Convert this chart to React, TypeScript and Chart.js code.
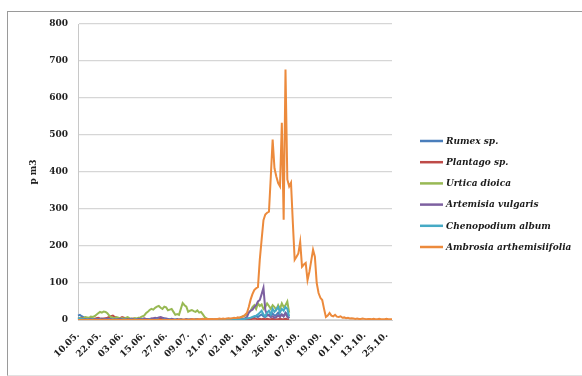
import React, { useEffect, useRef } from 'react';
import { Chart, registerables } from 'chart.js';

Chart.register(...registerables);

// Tick labels shown on the x axis (every 12th day)
const TICK_LABELS = ['10.05.', '22.05.', '03.06.', '15.06.', '27.06.', '09.07.', '21.07.', '02.08.', '14.08.', '26.08.', '07.09.', '19.09.', '01.10.', '13.10.', '25.10.'];
const Y_TICKS = [0, 100, 200, 300, 400, 500, 600, 700, 800];

const SERIES_NAMES = ['Rumex sp.', 'Plantago sp.', 'Urtica dioica', 'Artemisia vulgaris', 'Chenopodium album', 'Ambrosia arthemisiifolia'];
const COLORS = ['#4A7EBB', '#BE4B48', '#98B954', '#7D60A0', '#46AAC5', '#EC8A3C'];

const RUMEX = [
  12, 14, 10, 8, 5, 4, 3, 4, 3, 2,
  3, 2, 3, 4, 3, 2, 2, 3, 2, 1,
  2, 1, 2, 1, 1, 2, 1, 1, 2, 1,
  1, 0, 1, 1, 0, 1, 0, 1, 1, 0,
  1, 0, 1, 0, 1, 1, 0, 1, 0, 1,
  0, 1, 0, 0, 1, 0, 1, 0, 0, 1,
  0, 0, 1, 0, 0, 1, 0, 0, 0, 1,
  0, 0, 0, 1, 0, 0, 0, 1, 0, 0,
  1, 0, 0, 1, 0, 1, 1, 1, 2, 2,
  2, 3, 3, 4, 5, 6, 8, 10, 8, 12,
  15, 10, 8, 12, 15, 10, 18, 12, 14, 20,
  12, 15, 10, 20, 15, 5,
];

const PLANTAGO = [
  4, 5, 6, 4, 3, 5, 4, 3, 4, 3,
  5, 6, 4, 3, 4, 5, 6, 8, 10, 12,
  8, 6, 4, 5, 8, 6, 4, 3, 2, 3,
  4, 3, 2, 3, 2, 3, 4, 3, 2, 2,
  3, 2, 3, 2, 2, 3, 2, 2, 1, 2,
  1, 2, 1, 1, 2, 1, 2, 1, 1, 2,
  1, 1, 2, 1, 1, 2, 1, 1, 2, 1,
  1, 2, 1, 1, 1, 2, 1, 1, 1, 2,
  1, 1, 2, 1, 1, 2, 1, 2, 1, 2,
  2, 2, 3, 3, 2, 3, 4, 3, 2, 3,
  2, 3, 2, 3, 2, 2, 3, 2, 2, 2,
  3, 2, 2, 3, 2, 2,
];

const URTICA = [
  3, 5, 4, 5, 8, 7, 6, 9, 8, 10,
  14, 18, 22, 20, 23, 22, 18, 12, 8, 6,
  5, 8, 6, 4, 5, 3, 6, 8, 5, 4,
  3, 5, 4, 6, 7, 10, 12, 18, 22, 27,
  30, 28, 33, 36, 38, 33, 30, 36, 34, 26,
  28, 30, 22, 14, 16, 14, 30, 46, 40, 36,
  22, 25, 27, 24, 22, 26, 20, 22, 15, 8,
  4, 2, 1, 0, 1, 0, 1, 0, 1, 2,
  1, 2, 3, 2, 3, 4, 4, 5, 6, 8,
  10, 12, 15, 20, 25, 35, 40, 30, 45, 38,
  42, 30, 35, 45, 38, 30, 40, 35, 28, 40,
  30, 45, 35, 40, 50, 20,
];

const ARTEMISIA = [
  2, 1, 2, 3, 2, 1, 2, 3, 2, 1,
  2, 3, 2, 1, 2, 3, 4, 3, 2, 1,
  2, 1, 2, 3, 2, 1, 2, 1, 2, 3,
  2, 1, 2, 3, 2, 3, 4, 3, 2, 3,
  4, 5, 6, 5, 7, 8, 6, 5, 4, 3,
  2, 3, 2, 1, 2, 1, 2, 1, 1, 2,
  1, 2, 1, 1, 2, 1, 1, 2, 1, 1,
  1, 1, 0, 1, 0, 1, 0, 1, 1, 0,
  1, 0, 1, 1, 0, 1, 1, 2, 2, 3,
  3, 5, 8, 20, 25, 28, 35, 40, 50, 54,
  70, 87, 27, 14, 12, 8, 10, 6, 8, 12,
  8, 15, 10, 18, 8, 5,
];

const CHENOPODIUM = [
  5, 4, 3, 2, 1, 2, 1, 1, 2, 1,
  1, 0, 1, 0, 1, 1, 0, 1, 0, 1,
  0, 1, 0, 0, 1, 0, 1, 0, 0, 1,
  0, 0, 1, 0, 0, 1, 0, 0, 0, 1,
  0, 0, 0, 1, 0, 0, 0, 1, 0, 0,
  1, 0, 0, 1, 0, 0, 1, 0, 0, 0,
  1, 0, 0, 0, 1, 0, 0, 1, 0, 0,
  0, 1, 0, 0, 0, 1, 0, 0, 1, 0,
  0, 1, 0, 1, 1, 1, 2, 1, 2, 2,
  2, 3, 4, 5, 6, 8, 10, 12, 15, 20,
  25, 15, 10, 20, 25, 15, 30, 22, 28, 35,
  20, 30, 25, 35, 30, 10,
];

const AMBROSIA = [
  0, 0, 0, 0, 0, 0, 0, 0, 0, 0,
  0, 0, 0, 0, 0, 0, 0, 0, 0, 0,
  0, 0, 0, 0, 0, 0, 0, 0, 0, 0,
  0, 0, 0, 0, 0, 0, 0, 0, 0, 0,
  0, 0, 0, 0, 0, 0, 0, 0, 0, 0,
  0, 0, 0, 0, 0, 1, 1, 1, 1, 1,
  1, 1, 2, 2, 1, 2, 2, 2, 3, 2,
  3, 2, 3, 3, 2, 3, 3, 4, 3, 4,
  3, 4, 5, 4, 5, 6, 5, 7, 6, 8,
  10, 14, 19, 35, 55, 70, 81, 86, 89, 163,
  217, 270, 285, 290, 293, 388, 488, 410, 388, 370,
  361, 533, 271, 677, 380, 361, 371, 263, 163, 171,
  180, 211, 144, 150, 154, 108, 130, 160, 190, 171,
  100, 73, 60, 54, 30, 8, 12, 19, 12, 10,
  14, 9, 8, 10, 6, 7, 5, 6, 4, 5,
  4, 3, 4, 3, 3, 4, 3, 2, 3, 3,
  2, 3, 2, 2, 3, 2, 2, 2, 3, 2,
  2, 2,
];

const SERIES = [RUMEX, PLANTAGO, URTICA, ARTEMISIA, CHENOPODIUM, AMBROSIA];

// Daily categories starting at 10.05.
const DAYS: string[] = [];
for (let i = 0; i < AMBROSIA.length; i++) {
  const d = new Date(Date.UTC(2013, 4, 10 + i));
  const dd = String(d.getUTCDate()).padStart(2, '0');
  const mm = String(d.getUTCMonth() + 1).padStart(2, '0');
  DAYS.push(`${dd}.${mm}.`);
}

const FONT = "'DejaVu Serif', 'Liberation Serif', serif";

const sideLegend = {
  id: 'sideLegend',
  afterDraw(chart: any) {
    const ctx = chart.ctx as CanvasRenderingContext2D;
    ctx.save();
    ctx.font = `italic bold 9px ${FONT}`;
    ctx.textBaseline = 'middle';
    ctx.textAlign = 'left';
    const x0 = chart.chartArea.right + 28;
    SERIES_NAMES.forEach((name, i) => {
      const y = 141 + i * 21.2;
      ctx.strokeStyle = COLORS[i];
      ctx.lineWidth = 2.5;
      ctx.beginPath();
      ctx.moveTo(x0, y);
      ctx.lineTo(x0 + 23, y);
      ctx.stroke();
      ctx.fillStyle = '#1a1a1a';
      ctx.fillText(name, x0 + 26, y + 0.5);
    });
    ctx.restore();
  },
};

export default function App() {
  const ref = useRef<HTMLCanvasElement | null>(null);

  useEffect(() => {
    if (!ref.current) return;
    const chart = new Chart(ref.current, {
      type: 'line',
      data: {
        labels: DAYS,
        datasets: SERIES.map((s, i) => ({
          label: SERIES_NAMES[i],
          data: s,
          borderColor: COLORS[i],
          backgroundColor: COLORS[i],
          borderWidth: 2,
          pointRadius: 0,
          tension: 0,
          order: SERIES.length - i,
        })),
      },
      options: {
        responsive: false,
        animation: false,
        layout: { padding: { left: 0, top: 24, right: 190, bottom: 6 } },
        plugins: {
          legend: { display: false },
          tooltip: { enabled: false },
        },
        scales: {
          x: {
            type: 'category',
            offset: false,
            grid: { display: false, drawTicks: false },
            border: { display: true, color: '#d0d0d0', width: 1 },
            ticks: {
              autoSkip: false,
              maxRotation: 45,
              minRotation: 45,
              padding: 10,
              color: '#222',
              font: { family: FONT, size: 9, weight: 'bold' },
              callback: (_v: any, idx: number) => (idx % 12 === 0 ? TICK_LABELS[idx / 12] ?? null : null),
            },
            afterFit: (s: any) => { s.height = 50; },
          },
          y: {
            min: Y_TICKS[0],
            max: Y_TICKS[Y_TICKS.length - 1],
            grid: { color: '#d6d6d6', lineWidth: 1.3, drawTicks: false },
            border: { display: true, color: '#c8c8c8', width: 1 },
            ticks: {
              stepSize: 100,
              padding: 10,
              color: '#222',
              font: { family: FONT, size: 9, weight: 'bold' },
            },
            title: {
              display: true,
              text: 'p m3',
              color: '#222',
              font: { family: FONT, size: 9, weight: 'bold' },
              padding: { top: 28, bottom: 0 },
            },
            afterFit: (s: any) => { s.width = 78; },
          },
        },
      },
      plugins: [sideLegend],
    });
    return () => chart.destroy();
  }, []);

  return (
    <div>
      <div
        style={{
          position: 'fixed',
          left: 7,
          top: 11,
          width: 640,
          height: 365,
          borderTop: '1px solid #9a9a9a',
          borderLeft: '1px solid #9a9a9a',
          borderBottom: '1px solid #e2e2e2',
          boxSizing: 'border-box',
        }}
      />
      <canvas
        ref={ref}
        width={582}
        height={376}
        style={{ position: 'fixed', left: 0, top: 0, width: 582, height: 376 }}
      />
    </div>
  );
}
